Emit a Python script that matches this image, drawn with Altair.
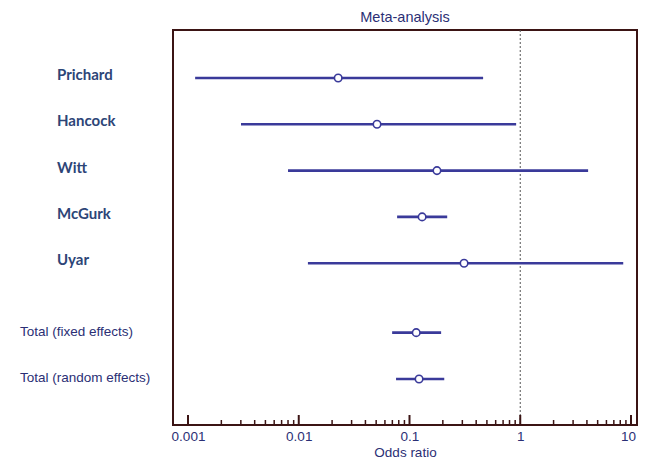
import altair as alt
import pandas as pd

names = ["Prichard", "Hancock", "Witt", "McGurk", "Uyar",
         "Total (fixed effects)", "Total (random effects)"]
kinds = ["study"] * 5 + ["total"] * 2
odds = [0.0227, 0.0509, 0.177, 0.130, 0.311, 0.115, 0.122]
lower = [0.00116, 0.00301, 0.0080, 0.0773, 0.0121, 0.0697, 0.0756]
upper = [0.462, 0.918, 4.10, 0.219, 8.51, 0.193, 0.206]
tick_labels = [0.001, 0.01, 0.1, 1, 10]

# row positions: studies one per row, totals after a gap
rows = []
for i, k in enumerate(kinds):
    rows.append(i if k == "study" else i + 0.5)

df = pd.DataFrame({"name": names, "kind": kinds, "or": odds,
                   "lo": lower, "hi": upper, "row": rows})

major = pd.DataFrame({"v": tick_labels})
minor = pd.DataFrame({"v": [m * d for d in tick_labels[:-1] for m in range(2, 10)]})
ref = pd.DataFrame({"v": [1]})

W, H = 464, 395
FRAME = "#3b1414"
NAVY = "#2b2f75"
LINE = "#3a3a9a"

xscale = alt.Scale(type="log", domain=[0.000732, 11.33], nice=False)
yscale = alt.Scale(domain=[-1.037, 7.495], reverse=True, nice=False, zero=False)

xaxis = alt.Axis(values=tick_labels, format="~g", ticks=False, domain=False,
                 grid=False, labelFontSize=13.5, labelColor=NAVY,
                 labelFont="Liberation Sans", labelPadding=4,
                 labelOffset=alt.ExprRef(expr="datum.value >= 10 ? -3 : 0"),
                 title="Odds ratio", titleFontSize=13.5, titleColor=NAVY,
                 titleFont="Liberation Sans", titleFontWeight="normal",
                 titlePadding=3)

base = alt.Chart(df)

refline = alt.Chart(ref).mark_rule(color="#555555", strokeDash=[2, 2], strokeWidth=1).encode(
    x=alt.X("v:Q", scale=xscale, axis=xaxis)
)

ci = base.mark_rule(color=LINE, strokeWidth=2.6).encode(
    x=alt.X("lo:Q", scale=xscale, axis=xaxis),
    x2="hi:Q",
    y=alt.Y("row:Q", scale=yscale, axis=None),
)

pts = base.mark_point(shape="circle", filled=True, fill="white", stroke=LINE,
                      strokeWidth=1.6, size=56, opacity=1).encode(
    x=alt.X("or:Q", scale=xscale, axis=xaxis),
    y=alt.Y("row:Q", scale=yscale, axis=None),
)

study_lbl = base.transform_filter(alt.datum.kind == "study").mark_text(
    align="left", baseline="middle", font="Lato", fontWeight="bold",
    fontSize=15, color="#2d4577", dy=-3
).encode(x=alt.value(-116), y=alt.Y("row:Q", scale=yscale, axis=None), text="name:N")

total_lbl = base.transform_filter(alt.datum.kind == "total").mark_text(
    align="left", baseline="middle", font="Liberation Sans",
    fontSize=13.5, color=NAVY, dy=-1
).encode(x=alt.value(-153), y=alt.Y("row:Q", scale=yscale, axis=None), text="name:N")

major_ticks = alt.Chart(major).mark_rule(color=FRAME, strokeWidth=2).encode(
    x=alt.X("v:Q", scale=xscale, axis=xaxis), y=alt.value(H), y2=alt.value(H - 10)
)
minor_ticks = alt.Chart(minor).mark_rule(color=FRAME, strokeWidth=1.5).encode(
    x=alt.X("v:Q", scale=xscale, axis=xaxis), y=alt.value(H), y2=alt.value(H - 5)
)

chart = alt.layer(refline, minor_ticks, major_ticks, ci, pts, study_lbl, total_lbl).properties(
    width=W, height=H,
    title=alt.TitleParams("Meta-analysis", fontSize=14.5, font="Liberation Sans",
                          fontWeight="normal", color=NAVY, offset=4),
    autosize=alt.AutoSizeParams(type="none"),
    padding={"left": 165, "top": 22, "right": 1, "bottom": 36},
).configure_view(stroke=FRAME, strokeWidth=2)

chart.save("out.html", embed_options={"renderer": "svg", "actions": False})
